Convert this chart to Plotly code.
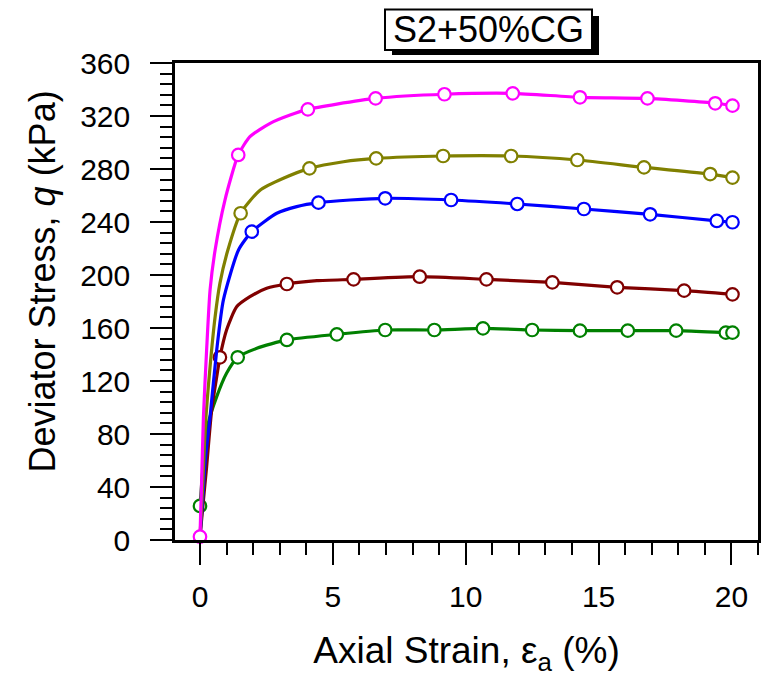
import plotly.graph_objects as go

# ---- data ----
# curve points (strain %, deviator stress kPa)
mag_x = [0.0, 0.06, 0.13, 0.25, 0.38, 0.57, 0.94, 1.44, 1.88, 2.64, 3.39, 4.06, 5.15, 6.61, 9.2, 11.77, 14.3, 16.84, 19.39, 20.04]
mag_y = [2.5, 42.8, 93.0, 143.4, 188.7, 218.9, 256.6, 290.6, 304.4, 314.5, 320.7, 325.0, 329.0, 333.3, 336.4, 337.1, 334.1, 333.3, 329.6, 327.8]
mag_mx = [0.0, 1.44, 4.06, 6.61, 9.2, 11.77, 14.3, 16.84, 19.39, 20.04]
mag_my = [2.5, 290.6, 325.0, 333.3, 336.4, 337.1, 334.1, 333.3, 329.6, 327.8]

oli_x = [0.0, 0.1, 0.2, 0.38, 0.57, 0.75, 1.05, 1.53, 2.26, 3.14, 4.12, 5.4, 6.63, 9.15, 11.71, 14.2, 16.71, 19.2, 20.04]
oli_y = [2.0, 40.0, 85.0, 130.8, 168.5, 193.7, 218.9, 246.6, 264.0, 273.0, 280.5, 285.5, 288.0, 289.8, 289.8, 286.8, 281.2, 276.2, 273.5]
oli_mx = [1.53, 4.12, 6.63, 9.15, 11.71, 14.2, 16.71, 19.2, 20.04]
oli_my = [246.6, 280.5, 288.0, 289.8, 289.8, 286.8, 281.2, 276.2, 273.5]

blu_x = [0.0, 0.1, 0.2, 0.38, 0.63, 0.88, 1.45, 1.95, 2.89, 3.64, 4.46, 5.65, 6.97, 9.45, 11.94, 14.45, 16.94, 19.45, 20.04]
blu_y = [2.0, 30.0, 60.0, 93.0, 143.4, 181.0, 218.9, 232.7, 246.6, 251.6, 254.6, 256.6, 257.9, 256.6, 253.6, 249.8, 245.8, 240.8, 239.8]
blu_mx = [1.95, 4.46, 6.97, 9.45, 11.94, 14.45, 16.94, 19.45, 20.04]
blu_my = [232.7, 254.6, 257.9, 256.6, 253.6, 249.8, 245.8, 240.8, 239.8]

red_x = [0.0, 0.12, 0.25, 0.44, 0.63, 0.75, 1.0, 1.38, 1.88, 2.51, 3.27, 4.4, 5.78, 8.27, 10.78, 13.26, 15.7, 18.22, 20.04]
red_y = [2.0, 28.0, 55.3, 98.0, 123.2, 137.9, 158.5, 176.0, 183.6, 190.0, 193.2, 195.7, 196.7, 198.7, 196.7, 194.4, 190.7, 188.2, 185.4]
red_mx = [0.75, 3.27, 5.78, 8.27, 10.78, 13.26, 15.7, 18.22, 20.04]
red_my = [137.9, 193.2, 196.7, 198.7, 196.7, 194.4, 190.7, 188.2, 185.4]

grn_x = [0.0, 0.13, 0.31, 0.63, 1.0, 1.42, 2.14, 3.27, 5.15, 6.97, 8.82, 10.65, 12.5, 14.3, 16.1, 17.92, 19.79, 20.04]
grn_y = [25.7, 57.9, 88.0, 108.2, 125.8, 137.9, 144.7, 151.0, 155.2, 158.5, 158.5, 159.7, 158.5, 158.0, 158.0, 158.0, 156.5, 156.5]
grn_mx = [0.0, 1.42, 3.27, 5.15, 6.97, 8.82, 10.65, 12.5, 14.3, 16.1, 17.92, 19.79, 20.04]
grn_my = [25.7, 137.9, 151.0, 155.2, 158.5, 158.5, 159.7, 158.5, 158.0, 158.0, 158.0, 156.5, 156.5]

x_ticks = [0, 5, 10, 15, 20]
y_ticks = [0, 40, 80, 120, 160, 200, 240, 280, 320, 360]
title_text = "S2+50%CG"
x_title = "Axial Strain, ε<sub>a</sub> (%)"
y_title = "Deviator Stress, <i>q</i> (kPa)"

series = [
    (grn_x, grn_y, grn_mx, grn_my, "#008000"),
    (red_x, red_y, red_mx, red_my, "#800000"),
    (blu_x, blu_y, blu_mx, blu_my, "#0000FF"),
    (oli_x, oli_y, oli_mx, oli_my, "#808000"),
    (mag_x, mag_y, mag_mx, mag_my, "#FF00FF"),
]

FONT = "Arial, Liberation Sans, sans-serif"
fig = go.Figure()
for cx, cy, mx, my, col in series:
    fig.add_trace(go.Scatter(x=cx, y=cy, mode="lines",
                             line=dict(color=col, width=3.2, shape="spline", smoothing=0.6),
                             showlegend=False, hoverinfo="skip"))
    fig.add_trace(go.Scatter(x=mx, y=my, mode="markers", cliponaxis=False,
                             marker=dict(symbol="circle", size=12.5, color="white",
                                         line=dict(color=col, width=2.2)),
                             showlegend=False))

axis_common = dict(showline=True, linecolor="black", linewidth=2.5, mirror=True,
                   showgrid=False, zeroline=False, ticks="outside", ticklen=22,
                   tickwidth=2, tickcolor="black",
                   tickfont=dict(family=FONT, size=30, color="black"))

fig.update_xaxes(range=[-0.94, 21.0], tickvals=x_ticks,
                 minor=dict(dtick=1, tick0=0, ticks="outside", ticklen=12, tickwidth=2, tickcolor="black"),
                 title=dict(text=x_title, font=dict(family=FONT, size=37, color="black"), standoff=26),
                 ticklabelstandoff=6,
                 **axis_common)
fig.update_yaxes(range=[0, 360], tickvals=y_ticks,
                 minor=dict(dtick=8, tick0=0, ticks="outside", ticklen=12, tickwidth=2, tickcolor="black"),
                 ticklabelstandoff=14,
                 **axis_common)

# figure sits inside the page's default 8 px body margin
W, H = 767, 671
L, T, R, B = 167, 55, 17, 139
pw, ph = W - L - R, H - T - B


def px(page_x):
    return (page_x - 8 - L) / pw


def py(page_y):
    return (H - B - (page_y - 8)) / ph


# y-axis title (placed as in the reference, slightly above the plot centre)
fig.add_annotation(text=y_title, xref="paper", yref="paper", x=px(42), y=py(281.5),
                   xanchor="center", yanchor="middle", textangle=-90, showarrow=False,
                   font=dict(family=FONT, size=36, color="black"))

# title box with drop shadow
fig.add_shape(type="rect", xref="paper", yref="paper",
              x0=px(392), x1=px(599), y0=py(55), y1=py(16),
              fillcolor="black", line=dict(color="black", width=0), layer="above")
fig.add_shape(type="rect", xref="paper", yref="paper",
              x0=px(385), x1=px(592), y0=py(50), y1=py(9.5),
              fillcolor="white", line=dict(color="black", width=2), layer="above")
fig.add_annotation(text=title_text, xref="paper", yref="paper", x=px(489), y=py(29),
                   xanchor="center", yanchor="middle", showarrow=False,
                   font=dict(family=FONT, size=36, color="black"))

fig.update_layout(width=W, height=H, autosize=False,
                  margin=dict(l=L, r=R, t=T, b=B),
                  plot_bgcolor="white", paper_bgcolor="white")

fig.write_html("out.html")
